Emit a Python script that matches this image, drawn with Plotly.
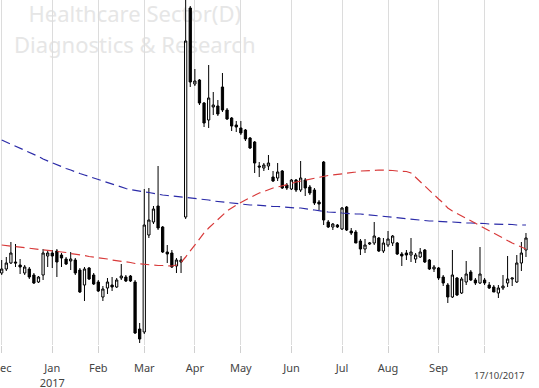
import plotly.graph_objects as go

# ---- data ----
dates = (
    ["2016-12-01", "2016-12-05", "2016-12-07", "2016-12-09", "2016-12-13", "2016-12-15",
     "2016-12-19", "2016-12-21", "2016-12-23", "2016-12-27", "2016-12-29"]
    + ["2017-01-02", "2017-01-04", "2017-01-06", "2017-01-10", "2017-01-12", "2017-01-16",
       "2017-01-18", "2017-01-20", "2017-01-24", "2017-01-27"]
    + ["2017-02-01", "2017-02-03", "2017-02-07", "2017-02-09", "2017-02-13", "2017-02-15",
       "2017-02-17", "2017-02-21", "2017-02-23", "2017-02-27"]
    + ["2017-03-01", "2017-03-03", "2017-03-07", "2017-03-09", "2017-03-13", "2017-03-15",
       "2017-03-17", "2017-03-21", "2017-03-23", "2017-03-27", "2017-03-29"]
    + ["2017-04-03", "2017-04-05", "2017-04-07", "2017-04-11", "2017-04-13", "2017-04-17",
       "2017-04-19", "2017-04-21", "2017-04-25", "2017-04-27"]
    + ["2017-05-02", "2017-05-04", "2017-05-08", "2017-05-10", "2017-05-12", "2017-05-16",
       "2017-05-18", "2017-05-22", "2017-05-24", "2017-05-26", "2017-05-30"]
    + ["2017-06-01", "2017-06-05", "2017-06-07", "2017-06-09", "2017-06-13", "2017-06-15",
       "2017-06-19", "2017-06-21", "2017-06-23", "2017-06-27", "2017-06-29"]
    + ["2017-07-03", "2017-07-05", "2017-07-07", "2017-07-11", "2017-07-13", "2017-07-17",
       "2017-07-19", "2017-07-21", "2017-07-25", "2017-07-27"]
    + ["2017-08-01", "2017-08-03", "2017-08-07", "2017-08-09", "2017-08-11", "2017-08-15",
       "2017-08-17", "2017-08-21", "2017-08-23", "2017-08-25", "2017-08-29"]
    + ["2017-09-01", "2017-09-05", "2017-09-07", "2017-09-11", "2017-09-13", "2017-09-15",
       "2017-09-19", "2017-09-21", "2017-09-25", "2017-09-27"]
    + ["2017-10-03", "2017-10-04", "2017-10-05", "2017-10-06", "2017-10-09", "2017-10-10",
       "2017-10-11", "2017-10-12", "2017-10-16", "2017-10-17"]
)

open_ = [454, 462, 474, 476, 470, 454, 462, 450, 436, 450, 488, 494, 498, 490, 482, 478, 480, 460, 430, 464,
         450, 436, 406, 424, 430, 426, 444, 446, 448, 436, 342, 336, 530, 556, 588, 546, 496, 494, 468, 476,
         566, 984, 832, 840, 794, 760, 786, 788, 826, 780, 764, 750, 744, 740, 724, 716, 668, 664, 668, 646,
         644, 658, 630, 622, 640, 620, 640, 626, 620, 596, 676, 556, 546, 550, 542, 586, 538, 536, 518, 502,
         512, 514, 524, 498, 510, 514, 514, 492, 494, 490, 482, 486, 500, 480, 462, 464, 446, 430, 406, 444,
         414, 436, 456, 440, 434, 440, 430, 426, 414, 424, 434, 442, 436, 474, 500]
high = [480, 486, 516, 512, 482, 470, 466, 454, 448, 502, 498, 500, 502, 494, 486, 496, 484, 464, 466, 466,
        454, 440, 428, 444, 446, 444, 472, 450, 450, 440, 354, 622, 624, 588, 668, 548, 510, 500, 484, 488,
        1010, 988, 862, 842, 796, 870, 816, 800, 854, 784, 766, 758, 758, 742, 726, 718, 676, 674, 690, 658,
        674, 660, 634, 642, 642, 678, 644, 630, 624, 600, 678, 560, 554, 552, 586, 588, 544, 540, 522, 522,
        516, 556, 526, 524, 538, 530, 516, 496, 500, 524, 494, 504, 502, 482, 470, 466, 450, 434, 500, 446,
        446, 478, 460, 444, 506, 444, 436, 430, 430, 450, 488, 444, 490, 516, 534]
low = [450, 458, 472, 466, 452, 450, 442, 432, 434, 440, 466, 464, 446, 466, 470, 460, 450, 414, 398, 440,
       430, 416, 398, 412, 418, 424, 440, 436, 436, 332, 314, 332, 524, 552, 540, 494, 474, 464, 454, 454,
       562, 826, 828, 790, 746, 744, 770, 768, 776, 760, 738, 736, 730, 718, 702, 654, 646, 658, 660, 636,
       638, 622, 620, 620, 616, 616, 608, 610, 590, 580, 550, 544, 540, 544, 540, 538, 530, 514, 490, 494,
       510, 510, 496, 494, 506, 508, 490, 468, 480, 476, 474, 484, 474, 460, 456, 440, 428, 394, 404, 408,
       412, 430, 438, 430, 432, 430, 422, 416, 404, 420, 426, 428, 434, 458, 486]
close = [462, 474, 494, 474, 466, 466, 446, 434, 446, 494, 494, 488, 476, 484, 472, 482, 454, 416, 462, 442,
         432, 418, 422, 436, 426, 440, 448, 438, 438, 334, 322, 550, 560, 582, 544, 496, 492, 466, 480, 480,
         918, 836, 838, 794, 754, 804, 790, 772, 780, 762, 748, 746, 734, 722, 704, 674, 666, 670, 674, 638,
         656, 624, 624, 640, 620, 644, 624, 614, 594, 592, 560, 546, 552, 546, 584, 540, 534, 514, 502, 510,
         514, 528, 498, 514, 522, 528, 492, 488, 490, 496, 490, 496, 476, 462, 466, 444, 434, 406, 450, 410,
         442, 452, 440, 434, 452, 434, 424, 416, 424, 428, 442, 444, 474, 494, 524]

ma_blue = [720, 716, 712, 708, 704, 700, 696, 692, 687, 682, 678, 674, 670, 666, 663, 660, 656, 653, 650, 647,
           644, 641, 638, 635, 632, 628, 626, 623, 621, 619, 618, 616, 615, 613, 612, 610, 609, 608, 607, 606,
           606, 604, 603, 602, 601, 600, 598, 597, 596, 594, 593, 592, 592, 591, 590, 590, 589, 588, 588, 587,
           587, 586, 585, 585, 584, 584, 582, 581, 580, 578, 577, 576, 576, 575, 574, 573, 573, 572, 572, 571,
           570, 569, 568, 567, 566, 565, 564, 564, 563, 562, 561, 560, 559, 558, 558, 557, 557, 556, 556, 555,
           555, 554, 554, 554, 553, 553, 552, 552, 552, 551, 551, 551, 550, 550, 550]
ma_red = [510, 509, 508, 507, 506, 505, 504, 503, 502, 501, 500, 499, 498, 496, 495, 493, 492, 490, 489, 487,
          486, 484, 483, 482, 480, 479, 478, 476, 475, 473, 472, 471, 470, 470, 469, 469, 468, 468, 470, 475,
          486, 498, 510, 523, 534, 544, 552, 562, 570, 578, 584, 590, 595, 600, 605, 610, 614, 617, 621, 624,
          626, 628, 631, 633, 636, 638, 640, 642, 644, 646, 647, 649, 650, 651, 653, 654, 655, 656, 658, 658,
          659, 659, 660, 660, 659, 659, 658, 658, 657, 654, 645, 636, 628, 620, 611, 602, 594, 584, 578, 573,
          568, 563, 558, 554, 549, 544, 539, 534, 529, 524, 519, 514, 510, 506, 502]

month_names = ["Dec", "Jan<br>2017", "Feb", "Mar", "Apr", "May", "Jun", "Jul", "Aug", "Sep", ""]
title_lines = ["Healthcare Sector(D)", "Diagnostics & Research"]
last_label = "17/10/2017"

# first trading date of every month -> tick positions
tickvals = []
seen = set()
for d in dates:
    if d[:7] not in seen:
        seen.add(d[:7])
        tickvals.append(d)

FONT = "Noto Sans"

fig = go.Figure()
fig.add_trace(go.Candlestick(
    x=dates, open=open_, high=high, low=low, close=close,
    increasing=dict(line=dict(color="black", width=1), fillcolor="white"),
    decreasing=dict(line=dict(color="black", width=1), fillcolor="black"),
    whiskerwidth=0, showlegend=False, hoverinfo="skip",
))
fig.add_trace(go.Scatter(x=dates, y=ma_blue, mode="lines", showlegend=False, hoverinfo="skip",
                         line=dict(color="#2b2ba8", width=1.2, dash="9px,5px")))
fig.add_trace(go.Scatter(x=dates, y=ma_red, mode="lines", showlegend=False, hoverinfo="skip",
                         line=dict(color="#d83a3a", width=1.2, dash="9px,5px")))

shapes = []
for txt, yc in zip(title_lines, [0.956, 0.868]):
    shapes.append(dict(type="rect", xref="paper", yref="paper", x0=0, x1=0.5,
                       y0=yc - 0.04, y1=yc + 0.04, line=dict(width=0),
                       fillcolor="rgba(0,0,0,0)", layer="below",
                       label=dict(text=txt, textposition="middle center",
                                  font=dict(family=FONT, size=22, color="#e6e6e6"))))

fig.update_layout(
    width=539, height=388,
    margin=dict(l=0, r=0, t=0, b=43, pad=0),
    paper_bgcolor="white", plot_bgcolor="white",
    shapes=shapes,
    font=dict(family=FONT, size=11, color="#444444"),
    xaxis=dict(type="category", range=[-0.37, 116.83], tickmode="array",
               tickvals=tickvals, ticktext=month_names, automargin=False,
               showgrid=True, gridcolor="#dcdcdc", gridwidth=1,
               ticks="outside", ticklen=7, tickcolor="#d0d0d0",
               ticklabelstandoff=6,
               showline=False, zeroline=False, rangeslider=dict(visible=False),
               tickfont=dict(family=FONT, size=11, color="#444444")),
    yaxis=dict(range=[310, 1000], showgrid=False, showticklabels=False, automargin=False,
               zeroline=False, showline=False, ticks=""),
    annotations=[dict(text=last_label, xref="paper", yref="paper",
                      x=0.926, y=-0.087, showarrow=False, xanchor="center", yanchor="middle",
                      font=dict(family=FONT, size=9.5, color="#444444"))],
)

fig.write_html("out.html", config={"displayModeBar": False},
               post_script="document.body.style.margin='0';")
